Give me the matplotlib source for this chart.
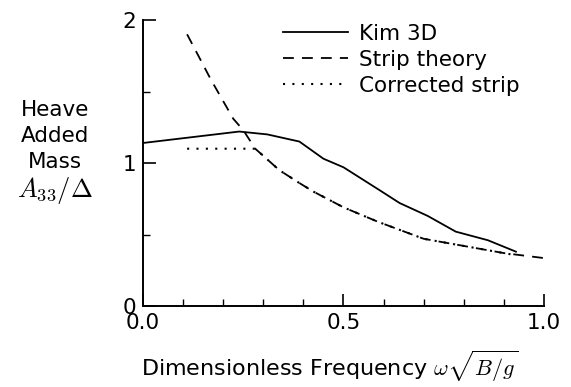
import matplotlib
matplotlib.use('Agg')
import matplotlib.pyplot as plt
import numpy as np

plt.rcParams['mathtext.fontset'] = 'cm'
plt.rcParams['font.family'] = 'DejaVu Sans'

# Kim 3D
kim_x = [0.0, 0.12, 0.24, 0.31, 0.39, 0.45, 0.50, 0.59, 0.64, 0.71, 0.78, 0.86, 0.93]
kim_y = [1.14, 1.18, 1.22, 1.20, 1.15, 1.03, 0.97, 0.81, 0.72, 0.63, 0.52, 0.46, 0.38]

# strip theory
strip_x = [0.11, 0.17, 0.225, 0.25, 0.28, 0.34, 0.39, 0.425, 0.50, 0.585, 0.70, 0.80, 0.90, 1.0]
strip_y = [1.90, 1.58, 1.31, 1.23, 1.10, 0.95, 0.86, 0.80, 0.69, 0.59, 0.47, 0.42, 0.37, 0.335]

# corrected strip
corr_x = [0.11, 0.20, 0.28, 0.34, 0.39, 0.425, 0.50, 0.585, 0.70, 0.80, 0.90, 0.93]
corr_y = [1.10, 1.10, 1.10, 0.95, 0.86, 0.80, 0.69, 0.59, 0.47, 0.42, 0.37, 0.355]

fs = 15.5

fig = plt.figure(figsize=(5.71, 3.87), dpi=100)
ax = fig.add_axes([0.2504, 0.2093, 0.7023, 0.739])

ax.plot(kim_x, kim_y, color='black', lw=1.3, ls='-', label='Kim 3D')
ax.plot(strip_x, strip_y, color='black', lw=1.3, ls=(0, (6, 4.5)), label='Strip theory')
ax.plot(corr_x, corr_y, color='black', lw=1.5, ls=(0, (1, 3.5)), label='Corrected strip')

ax.set_xlim(0, 1.0)
ax.set_ylim(0, 2)
ax.set_xticks([0.0, 0.5, 1.0])
ax.set_xticklabels(['0.0', '0.5', '1.0'])
ax.set_xticks(np.arange(0, 1.01, 0.1), minor=True)
ax.set_yticks([0, 1, 2])
ax.set_yticklabels(['0', '1', '2'])
ax.set_yticks([0.5, 1.5], minor=True)
ax.tick_params(which='major', direction='in', length=9, width=1.2, labelsize=fs, pad=5)
ax.tick_params(which='minor', direction='in', length=5, width=1.0)
for s in ['top', 'right']:
    ax.spines[s].set_visible(False)
for s in ['left', 'bottom']:
    ax.spines[s].set_linewidth(1.4)

fig.text(330 / 571, 1 - 366 / 387, r'Dimensionless Frequency $\omega\sqrt{B/g}$',
         ha='center', va='center', fontsize=16)
fig.text(55 / 571, 1 - 136 / 387, 'Heave\nAdded\nMass', ha='center', va='center',
         fontsize=fs, linespacing=1.38)
fig.text(55 / 571, 1 - 191 / 387, r'$A_{33}/\Delta$', ha='center', va='center', fontsize=19)

ax.legend(loc='upper left', bbox_to_anchor=(283 / 571, 0.938), bbox_transform=fig.transFigure,
          frameon=False, fontsize=fs, borderpad=0, borderaxespad=0,
          handlelength=3.0, handletextpad=0.55, labelspacing=0.27)

fig.savefig('out.png', dpi=100)
